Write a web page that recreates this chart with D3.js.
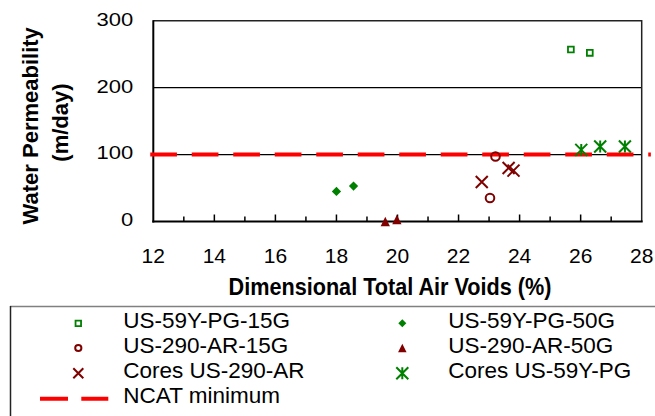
<!DOCTYPE html>
<html>
<head>
<meta charset="utf-8">
<script src="https://cdn.jsdelivr.net/npm/d3@7"></script>
<style>
  html, body { margin: 0; padding: 0; background: #fff; }
  svg { display: block; font-family: "Liberation Sans", Arial, sans-serif; }
</style>
</head>
<body>
<svg id="chart" width="655" height="416"></svg>
<script>
// Axis ticks
const xTickLabels = [12, 14, 16, 18, 20, 22, 24, 26, 28];
const xMinorTicks = [13, 14, 15, 16, 17, 18, 19, 20, 21, 22, 23, 24, 25, 26, 27];
const yTickLabels = [0, 100, 200, 300];
const yGrid = [100, 200];

// Series: dimensional total air voids (%) vs water permeability (m/day)
const pg15X = [25.68, 26.30];
const pg15Y = [257, 252];
const pg50X = [18.00, 18.56];
const pg50Y = [45, 53];
const ar15X = [23.21, 23.03];
const ar15Y = [97, 35];
const ar50X = [19.60, 19.98];
const ar50Y = [0, 3];
const coresArX = [22.76, 23.64, 23.80];
const coresArY = [59, 80, 76];
const coresPgX = [26.02, 26.64, 27.45];
const coresPgY = [107, 112, 112];
const ncatX = [11.9, 28.3];
const ncatY = [100, 100];

const GREEN = "#008000";
const DARKRED = "#800000";
const RED = "#ff0000";

const svg = d3.select("#chart");
const plot = { left: 153.3, right: 641.7, top: 20.7, bottom: 221.5 };

const x = d3.scaleLinear().domain([12, 28]).range([plot.left, plot.right]);
const y = d3.scaleLinear().domain([0, 300]).range([plot.bottom, plot.top]);

// Gridlines
svg.append("g").selectAll("line").data(yGrid).join("line")
  .attr("x1", plot.left).attr("x2", plot.right)
  .attr("y1", d => y(d)).attr("y2", d => y(d))
  .attr("stroke", "#000").attr("stroke-width", 1.3);

// Plot frame (top and right)
svg.append("path")
  .attr("d", `M${plot.left},${plot.top}H${plot.right}V${plot.bottom}`)
  .attr("fill", "none").attr("stroke", "#222").attr("stroke-width", 1.5);

// Bottom axis with inward ticks
const xAxis = svg.append("g");
xAxis.append("line")
  .attr("x1", plot.left - 1).attr("x2", plot.right + 1)
  .attr("y1", plot.bottom).attr("y2", plot.bottom)
  .attr("stroke", "#000").attr("stroke-width", 2);
xAxis.selectAll("line.tick").data(xMinorTicks).join("line")
  .attr("class", "tick")
  .attr("x1", d => x(d)).attr("x2", d => x(d))
  .attr("y1", plot.bottom).attr("y2", d => plot.bottom - (d % 2 === 0 ? 7 : 5))
  .attr("stroke", "#000").attr("stroke-width", 1.5);
xAxis.selectAll("text").data(xTickLabels).join("text")
  .attr("x", d => x(d)).attr("y", 263.3)
  .attr("text-anchor", "middle")
  .attr("font-size", 21).attr("fill", "#000")
  .text(d => d);

// Left axis
const yAxis = svg.append("g");
yAxis.append("line")
  .attr("x1", plot.left).attr("x2", plot.left)
  .attr("y1", plot.top - 0.5).attr("y2", plot.bottom + 1)
  .attr("stroke", "#000").attr("stroke-width", 2);
yAxis.selectAll("text").data(yTickLabels).join("text")
  .attr("transform", d => `translate(133.3,${y(d) + 4.9}) scale(1,0.8)`)
  .attr("text-anchor", "end")
  .attr("font-size", 22).attr("fill", "#000")
  .text(d => d);

// Axis titles
svg.append("text")
  .attr("x", 390).attr("y", 295)
  .attr("text-anchor", "middle")
  .attr("font-size", 23).attr("font-weight", "bold")
  .attr("textLength", 323).attr("lengthAdjust", "spacingAndGlyphs")
  .text("Dimensional Total Air Voids (%)");
svg.append("text")
  .attr("transform", "translate(37.7,125.8) rotate(-90)")
  .attr("text-anchor", "middle")
  .attr("font-size", 22).attr("font-weight", "bold")
  .text("Water Permeability");
svg.append("text")
  .attr("transform", "translate(67.5,122.5) rotate(-90)")
  .attr("text-anchor", "middle")
  .attr("font-size", 22).attr("font-weight", "bold")
  .text("(m/day)");

// NCAT minimum dashed line
const ncatLine = d3.line().x(d => x(d[0])).y(d => y(d[1]));
svg.append("path")
  .datum(d3.zip(ncatX, ncatY))
  .attr("d", ncatLine)
  .attr("fill", "none").attr("stroke", RED).attr("stroke-width", 4)
  .attr("stroke-dasharray", "26.7,14.8");

// Marker shapes (centered on the point)
const shapes = {
  square: s => `M${-s/2},${-s/2}h${s}v${s}h${-s}Z`,
  diamond: s => `M0,${-s/2}L${s/2},0L0,${s/2}L${-s/2},0Z`,
  triangle: s => `M0,${-s/2}L${s/2},${s/2}L${-s/2},${s/2}Z`,
  circle: s => `M${s/2},0A${s/2},${s/2} 0 1,1 ${-s/2},0A${s/2},${s/2} 0 1,1 ${s/2},0Z`,
  cross: s => `M${-s/2},${-s/2}L${s/2},${s/2}M${s/2},${-s/2}L${-s/2},${s/2}`,
  star: s => `M${-s/2},${-s/2}L${s/2},${s/2}M${s/2},${-s/2}L${-s/2},${s/2}M0,${-s/2}V${s/2}`
};

const series = [
  { name: "US-59Y-PG-15G", xs: pg15X, ys: pg15Y, shape: "square", color: GREEN, fill: false, size: 5.8, lsize: 5.5, sw: 1.8 },
  { name: "US-59Y-PG-50G", xs: pg50X, ys: pg50Y, shape: "diamond", color: GREEN, fill: true, size: 9.3, lsize: 8, sw: 0 },
  { name: "US-290-AR-15G", xs: ar15X, ys: ar15Y, shape: "circle", color: DARKRED, fill: false, size: 8.6, lsize: 6.2, sw: 2 },
  { name: "US-290-AR-50G", xs: ar50X, ys: ar50Y, shape: "triangle", color: DARKRED, fill: true, size: 9.3, lsize: 8.5, sw: 0 },
  { name: "Cores US-290-AR", xs: coresArX, ys: coresArY, shape: "cross", color: DARKRED, fill: false, size: 12, lsize: 10, sw: 2 },
  { name: "Cores US-59Y-PG", xs: coresPgX, ys: coresPgY, shape: "star", color: GREEN, fill: false, size: 12, lsize: 12, sw: 2 }
];

function drawMarker(g, s, size) {
  g.append("path")
    .attr("d", shapes[s.shape](size))
    .attr("fill", s.fill ? s.color : "none")
    .attr("stroke", s.fill ? "none" : s.color)
    .attr("stroke-width", s.sw);
}

series.forEach(s => {
  const pts = d3.zip(s.xs, s.ys);
  svg.append("g").selectAll("g").data(pts).join("g")
    .attr("transform", d => `translate(${x(d[0])},${y(d[1])})`)
    .each(function () { drawMarker(d3.select(this), s, s.size); });
});

// Legend
const legend = svg.append("g");
legend.append("line")
  .attr("x1", 10).attr("x2", 655).attr("y1", 306.5).attr("y2", 306.5)
  .attr("stroke", "#808080").attr("stroke-width", 1.5);
legend.append("line")
  .attr("x1", 10.5).attr("x2", 10.5).attr("y1", 306).attr("y2", 416)
  .attr("stroke", "#222").attr("stroke-width", 1.5);

const rowBase = [328.3, 353, 378.3, 403.3];
const legendItems = series.map((s, i) => ({ s, col: i % 2, row: Math.floor(i / 2) }));
const colMarkerX = [78.3, 402.3];
const colTextX = [123.3, 448.3];

legendItems.forEach(it => {
  const g = legend.append("g")
    .attr("transform", `translate(${colMarkerX[it.col]},${rowBase[it.row] - 5})`);
  drawMarker(g, it.s, it.s.lsize);
  legend.append("text")
    .attr("x", colTextX[it.col]).attr("y", rowBase[it.row])
    .attr("font-size", 22.5).attr("fill", "#000")
    .text(it.s.name);
});

legend.append("line")
  .attr("x1", 40).attr("x2", 108.3)
  .attr("y1", rowBase[3] - 4.5).attr("y2", rowBase[3] - 4.5)
  .attr("stroke", RED).attr("stroke-width", 4)
  .attr("stroke-dasharray", "28,13.3");
legend.append("text")
  .attr("x", colTextX[0]).attr("y", rowBase[3])
  .attr("font-size", 22.5).attr("fill", "#000")
  .text("NCAT minimum");
</script>
</body>
</html>
